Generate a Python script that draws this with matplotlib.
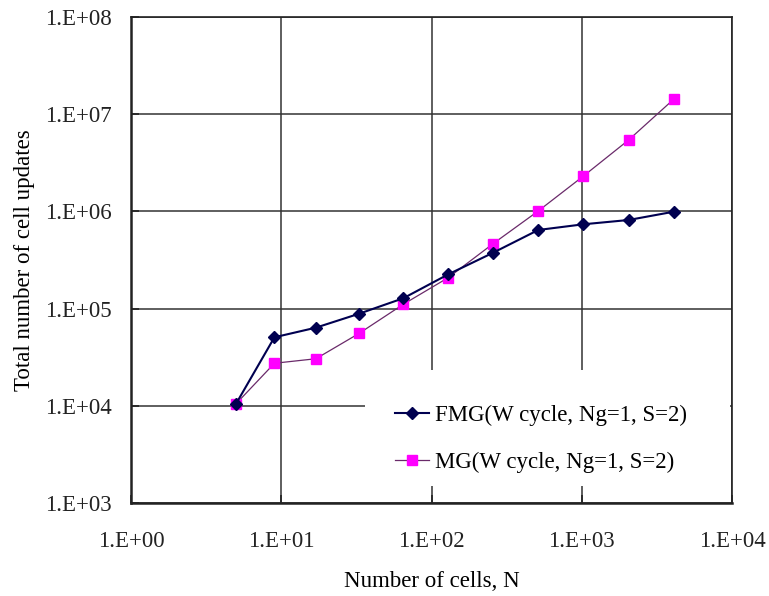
import numpy as np
import matplotlib.pyplot as plt
from matplotlib.patches import Rectangle
from matplotlib.ticker import FuncFormatter, LogLocator, NullLocator

# number of cells (2^k + 1) and total cell updates
n_cells = [5, 9, 17, 33, 65, 129, 257, 513, 1025, 2049, 4097]
fmg_updates = [10500, 50700, 63700, 88700, 128000, 225000, 376000, 644000, 737000, 816000, 993000]
mg_updates = [10500, 27400, 30500, 55700, 111000, 208000, 466000, 1010000, 2310000, 5430000, 14300000]

fmg_label = "FMG(W cycle, Ng=1, S=2)"
mg_label = "MG(W cycle, Ng=1, S=2)"

plt.rcParams['font.family'] = ['Liberation Serif', 'DejaVu Serif']
fs = 16.5

fig = plt.figure(figsize=(7.69, 5.96), dpi=100)
ax = fig.add_axes([0.1704, 0.156, 0.7816, 0.8155])

ax.plot(n_cells, fmg_updates, color='#000050', lw=1.5, marker='D', ms=6,
        mfc='#000050', mec='#000050', label=fmg_label, zorder=4)
ax.plot(n_cells, mg_updates, color='#6a2a6a', lw=0.9, marker='s', ms=6.5,
        mfc='#ff00ff', mec='#ff00ff', label=mg_label, zorder=3)

ax.set_xscale('log')
ax.set_yscale('log')
ax.set_xlim(1, 1e4)
ax.set_ylim(1e3, 1e8)

ax.xaxis.set_major_locator(LogLocator(base=10, numticks=10))
ax.yaxis.set_major_locator(LogLocator(base=10, numticks=10))
ax.xaxis.set_minor_locator(NullLocator())
ax.yaxis.set_minor_locator(NullLocator())
fmt = FuncFormatter(lambda v, p: '1.E+%02d' % round(np.log10(v)))
ax.xaxis.set_major_formatter(fmt)
ax.yaxis.set_major_formatter(fmt)

ax.grid(True, which='major', color='#333333', lw=1.1)
ax.set_axisbelow(True)
for s in ax.spines.values():
    s.set_color('#222222')
    s.set_linewidth(1.2)
ax.spines['left'].set_linewidth(1.8)
ax.spines['bottom'].set_linewidth(1.8)

ax.tick_params(axis='both', direction='in', length=6, width=1.2, labelsize=fs, colors='#222222')
ax.tick_params(axis='x', pad=20)
ax.tick_params(axis='y', pad=14)

ax.set_xlabel('Number of cells, N', fontsize=fs, labelpad=14)
ax.set_ylabel('Total number of cell updates', fontsize=fs, labelpad=7)

# white legend area hiding the grid behind it
ax.add_patch(Rectangle((0.389, 0.035), 0.608, 0.239, transform=ax.transAxes,
                       facecolor='white', edgecolor='none', zorder=1))
ax.legend(loc='upper left', bbox_to_anchor=(0.439, 0.202), borderaxespad=0,
          borderpad=0, fontsize=fs, frameon=False,
          handlelength=1.5, handletextpad=0.25, labelspacing=1.12)

fig.savefig('out.png', dpi=100)
